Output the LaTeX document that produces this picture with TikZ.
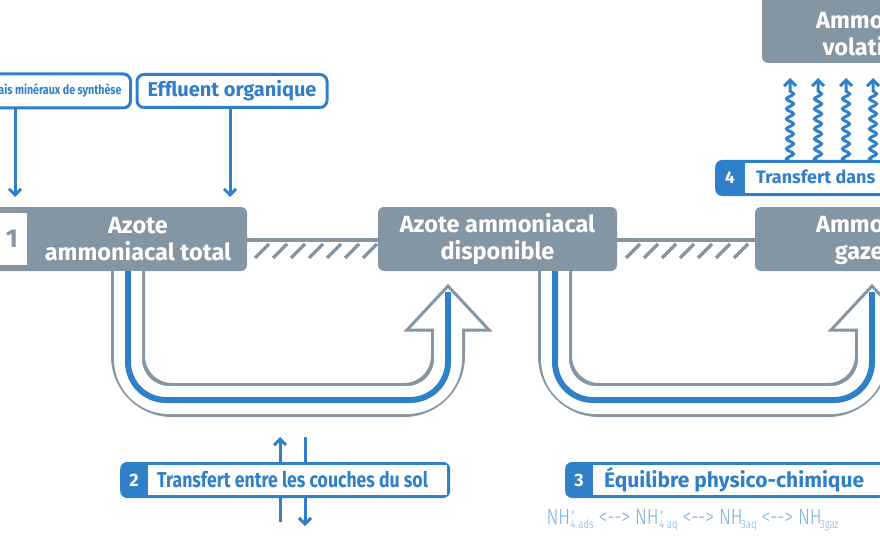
\documentclass[tikz,border=0pt]{standalone}
\usepackage{fontspec}
\setmainfont{Fira Sans}
\newfontfamily\narrowfont[FakeStretch=0.82]{Fira Sans}
\newfontfamily\thinfont[FakeStretch=0.8]{Fira Sans Light}
\usetikzlibrary{arrows.meta,decorations.pathmorphing}
\definecolor{boxgray}{RGB}{132,150,163}
\definecolor{azblue}{RGB}{47,128,200}
\definecolor{paleblue}{RGB}{120,172,222}
\newcommand{\chemsm}{\fontsize{12}{12}\selectfont}
\newcommand{\chem}[3]{NH\kern.5pt\raisebox{-4pt}{\chemsm #1}\kern-5pt\raisebox{8pt}{\chemsm #2}\kern3pt\raisebox{-4pt}{\chemsm #3}}
\tikzset{box/.style={fill=boxgray, rounded corners=6pt, inner sep=0pt, minimum height=64pt},
  boxtext/.style={text=white, font=\fontsize{23.5}{27}\selectfont\bfseries, align=center},
  src/.style={draw=azblue, line width=3pt, fill=white, rounded corners=7pt, text=azblue, inner sep=0pt, font=\bfseries},
  lab/.style={fill=azblue, rounded corners=7pt, inner sep=0pt, minimum height=36pt},
  inlab/.style={fill=white, inner sep=0pt, minimum height=30pt, anchor=west},
  labtext/.style={anchor=west, text=azblue, inner sep=0pt},
  flow/.style={draw=azblue, line width=3pt, -{Straight Barb[length=6pt,width=12pt]}},
  wave/.style={flow, decorate, decoration={snake, amplitude=3.5pt, segment length=10pt, pre length=0pt, post length=8pt}},
  hatch/.style={draw=boxgray, line width=3.5pt}}
\begin{document}
\begin{tikzpicture}[x=1pt,y=-1pt]
\useasboundingbox (0,0) rectangle (880,540);
\clip (0,0) rectangle (880,540);
% sources
\node[src, minimum height=34pt, inner xsep=9pt, font=\fontsize{13}{14}\narrowfont\bfseries, anchor=east] (min) at (132,91) {Engrais minéraux de synthèse};
\node[src, minimum width=190pt, minimum height=33pt, font=\fontsize{20}{22}\selectfont\bfseries] (eff) at (232,91) {Effluent organique};
% hatched links
\draw[hatch] (247,240) -- (378,240);
\draw[hatch] (617,240) -- (755,240);
\foreach \x in {255,273,...,370} \draw[hatch] (\x,258) -- (\x+14,244);
\foreach \x in {626,644,...,750} \draw[hatch] (\x,258) -- (\x+14,244);
% boxes
\node[box, minimum width=267pt] (tot) at (113.5,239) {};
\node[boxtext] (tottxt) at (138,239) {Azote\\ammoniacal total};
\node[fill=white, minimum width=30pt, minimum height=52pt, inner sep=0pt, text=boxgray, font=\fontsize{26}{26}\selectfont\bfseries] (one) at (12,239) {1};
\node[box, minimum width=239pt] (dis) at (497.5,239) {};
\node[boxtext] (distxt) at (497.5,239) {Azote ammoniacal\\disponible};
\node[box, minimum width=240pt] (gaz) at (875,239) {};
\node[boxtext] (gaztxt) at (872,239) {Ammoniac\\gazeux};
\node[box, minimum width=240pt, minimum height=70pt] (vol) at (882,28) {};
\node[boxtext] (voltxt) at (872,33) {Ammoniac\\volatilisé};
% inputs
\draw[flow] (min.south -| 15,0) -- (15,197);
\draw[flow] (eff.south -| 230,0) -- (230,197);
% U arrows
\foreach \xa/\xb [count=\i] in {128/448, 555/872} {
  \coordinate (s\i) at (\xa,271);
  \coordinate (h\i) at (\xb,330);
  \draw[boxgray, line width=34pt, rounded corners=44pt] (s\i) -- (\xa,400) -- (\xb,400) -- (h\i);
  \draw[white, line width=28pt, rounded corners=41pt] (s\i) -- (\xa,400) -- (\xb,400) -- ([yshift=2pt]h\i);
  \draw[boxgray, line width=3pt, line join=miter, fill=white] (\xb-14,330) -- (\xb-41,330) -- (\xb,286) -- (\xb+41,330) -- (\xb+14,330);
  \draw[azblue, line width=6pt, rounded corners=38pt] (s\i) -- (\xa,400) -- (\xb,400) -- (\xb,292);
}
% volatilisation
\foreach \x in {790,818,846,873} \draw[wave] (\x,162) -- (\x,78);
\node[lab, minimum width=200pt, anchor=west] (lab4) at (715,178) {};
\node[text=white, font=\fontsize{17}{17}\selectfont\bfseries] (n4) at (730,178) {4};
\node[inlab, minimum width=160pt] (w4) at (745,178) {};
\node[labtext, font=\fontsize{18}{18}\selectfont\bfseries] (t4) at (756,178) {Transfert dans l'atmosphère};
% soil transfer
\coordinate (ub) at (280,522);
\coordinate (ut) at (280,437);
\coordinate (dt) at (305,437);
\coordinate (db) at (305,526);
\draw[flow] (ub) -- (ut);
\draw[flow] (dt) -- (db);
\node[lab, minimum width=330pt, anchor=west] (lab2) at (120,480) {};
\node[text=white, font=\fontsize{18}{18}\selectfont\bfseries] (n2) at (134,480) {2};
\node[inlab, minimum width=299pt] (w2) at (148,480) {};
\node[labtext, font=\fontsize{21.5}{21.5}\narrowfont\bfseries] (t2) at (157,480) {Transfert entre les couches du sol};
% equilibrium
\node[lab, minimum width=320pt, anchor=west] (lab3) at (565,480) {};
\node[text=white, font=\fontsize{18}{18}\selectfont\bfseries] (n3) at (579,480) {3};
\node[inlab, minimum width=290pt] (w3) at (593,480) {};
\node[labtext, font=\fontsize{21}{21}\selectfont\bfseries] (t3) at (604,480) {Équilibre physico-chimique};
\node[anchor=west, text=paleblue, font=\fontsize{22}{22}\thinfont] (eq) at (543,520)
 {\chem{4}{+}{ads} <--> \chem{4}{+}{aq} <--> \chem{}{}{3aq} <--> \chem{}{}{3gaz}};
\end{tikzpicture}
\end{document}
